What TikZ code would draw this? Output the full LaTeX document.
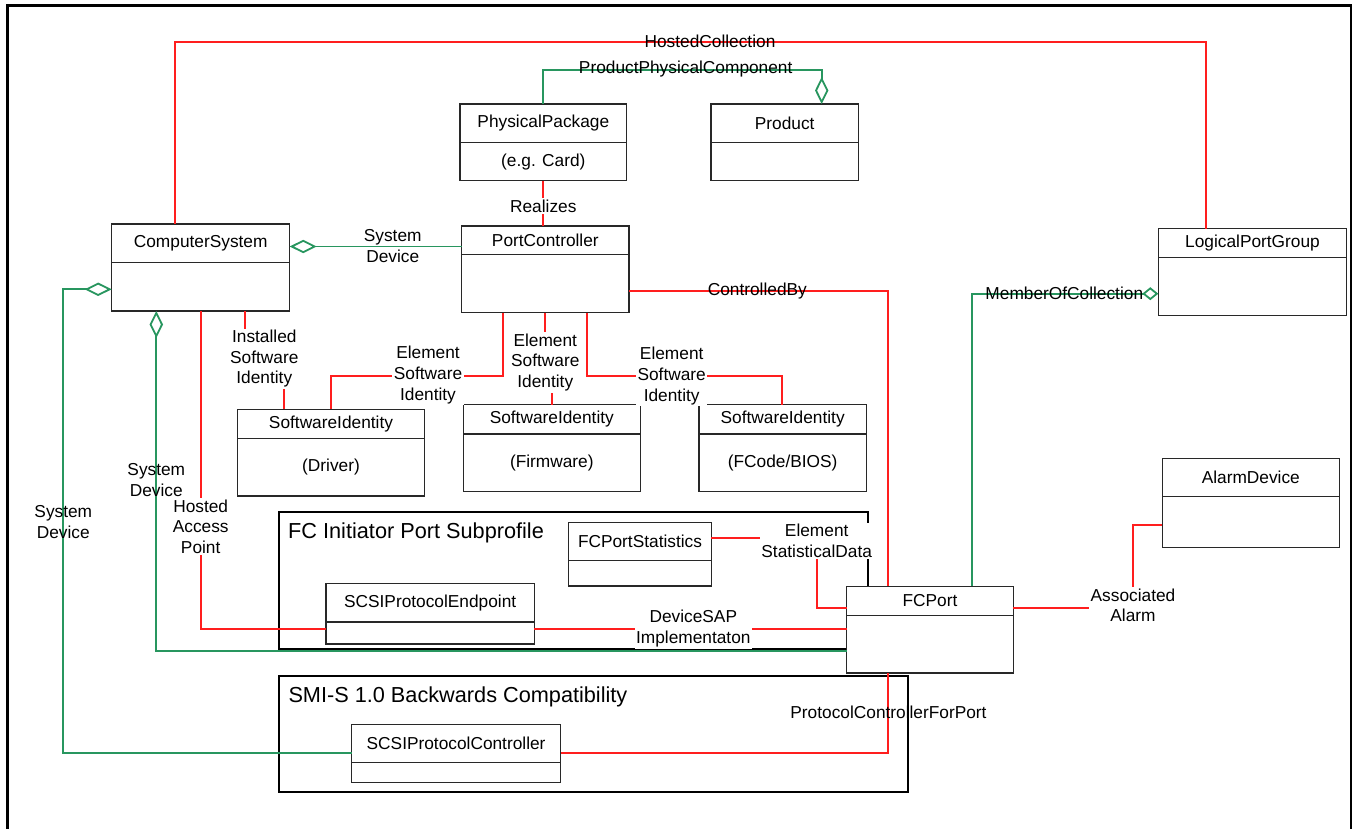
\documentclass[tikz,border=0pt]{standalone}
\usepackage{fontspec}
\setmainfont{Liberation Sans}
\usetikzlibrary{arrows.meta}
\definecolor{lred}{RGB}{255,30,30}
\definecolor{lgreen}{RGB}{40,150,95}
\definecolor{boxc}{RGB}{40,40,40}
\tikzset{
  txt/.style={font=\fontsize{17.3}{20.6}\selectfont, align=center, inner sep=1pt},
  lbl/.style={txt, fill=white, inner sep=1.5pt},
  ttl/.style={font=\fontsize{21.7}{26}\selectfont, inner sep=0pt, anchor=west},
  umlframe/.style={draw=boxc, fill=white, line width=1.2pt, inner sep=0pt, outer sep=0pt, anchor=north west},
  grpframe/.style={draw=black, line width=2pt, inner sep=0pt, outer sep=0pt, anchor=north west},
  redline/.style={draw=lred, line width=1.7pt},
  greenline/.style={draw=lgreen, line width=1.8pt},
  bigdia/.style={-{Diamond[open,length=27pt,width=13.4pt]}},
  smalldia/.style={-{Diamond[open,length=16pt,width=13pt]}},
}
% name, x1, y1, ydiv, x2, y2, title, sub
\newcommand{\umlbox}[8]{%
  \node[umlframe, minimum width={#5-#2}, minimum height={#6-#3}] (#1) at (#2,#3) {};
  \draw[draw=boxc, line width=1.2pt] (#2,#4) -- (#5,#4);
  \node[txt] at ({(#2+#5)/2},{(#3+#4)/2}) {#7};
  \node[txt] at ({(#2+#5)/2},{(#4+#6)/2}) {#8};
}
\begin{document}
\begin{tikzpicture}[x=1pt,y=-1pt]
\useasboundingbox (0,0) rectangle (1353,829);
\fill[white] (0,0) rectangle (1353,829);
% outer frame
\draw[line width=2.5pt] (7.5,829) -- (7.5,5.3) -- (1351,5.3) -- (1351,829);

% subprofile groups
\node[grpframe, minimum width=589, minimum height=136.4] (fci) at (279.3,512.3) {};
\node[ttl] (fcit) at (288,532.7) {FC Initiator Port Subprofile};
\node[grpframe, minimum width=628.7, minimum height=115.7] (smis) at (279.1,676.3) {};
\node[ttl] (smist) at (288.3,697.3) {SMI-S 1.0 Backwards Compatibility};

% UML boxes
\umlbox{cs}{111.7}{224}{262.7}{289.7}{311}{ComputerSystem}{}
\umlbox{pp}{460}{104}{142.7}{626.7}{180.7}{PhysicalPackage}{(e.g. Card)}
\umlbox{prod}{711}{104}{142.7}{858.3}{180.7}{Product}{}
\umlbox{pc}{461.7}{226}{254.7}{629}{312.7}{PortController}{}
\umlbox{lpg}{1158.3}{228.7}{257.3}{1346.7}{315.3}{LogicalPortGroup}{}
\umlbox{swd}{237.7}{409.3}{438.3}{424.3}{496}{SoftwareIdentity}{(Driver)}
\umlbox{swf}{463.3}{404.7}{434}{640.3}{491.3}{SoftwareIdentity}{(Firmware)}
\umlbox{swb}{699}{404.7}{434}{866.3}{491.3}{SoftwareIdentity}{(FCode/BIOS)}
\umlbox{alarm}{1162.3}{458.3}{496.7}{1339.3}{547.3}{AlarmDevice}{}
\umlbox{fcps}{568.7}{522.7}{560.7}{711.3}{586}{FCPortStatistics}{}
\umlbox{spe}{326}{583.7}{622}{534.3}{644}{SCSIProtocolEndpoint}{}
\umlbox{fcp}{846.7}{586.3}{615.3}{1013.3}{673}{FCPort}{}
\umlbox{spc}{351.7}{724.7}{762.7}{560.5}{782.3}{SCSIProtocolController}{}

% red connectors
\draw[redline] (175.3,0 |- cs.north) -- (175.3,42) -- (1205.7,42) -- (1205.7,0 |- lpg.north);
\node[txt] (hcl) at (710,41) {HostedCollection};
\draw[redline] (543.3,0 |- pp.south) -- (543.3,0 |- pc.north);
\draw[redline] (pc.east |- 0,290.7) -- (887.7,290.7) -- (887.7,0 |- fcp.north);
\node[txt] (cbl) at (757.3,290.7) {ControlledBy};
\draw[redline] (245.3,0 |- cs.south) -- (245.3,358.3) -- (284.3,358.3) -- (284.3,0 |- swd.north);
\draw[redline] (503.3,0 |- pc.south) -- (503.3,376) -- (331,376) -- (331,0 |- swd.north);
\draw[redline] (545.3,0 |- pc.south) -- (545.3,362) -- (552,362) -- (552,0 |- swf.north);
\draw[redline] (587,0 |- pc.south) -- (587,376) -- (782.3,376) -- (782.3,0 |- swb.north);
\draw[redline] (200.7,0 |- cs.south) -- (200.7,629) -- (spe.west |- 0,629);
\draw[redline] (spe.east |- 0,629) -- (fcp.west |- 0,629);
\draw[redline] (fcps.east |- 0,538.3) -- (816.7,538.3) -- (816.7,607.7) -- (fcp.west |- 0,607.7);
\draw[redline] (fcp.east |- 0,607.7) -- (1133,607.7) -- (1133,525) -- (alarm.west |- 0,525);
\draw[redline] (888,0 |- fcp.south) -- (888,753.3) -- (spc.east |- 0,753.3);

% labels with white background
\node[lbl] (rl) at (543.3,206) {Realizes};
\node[lbl] (isi) at (264.3,358.8) {Installed\\Software\\Identity};
\node[lbl] (esi1) at (428,375) {Element\\Software\\Identity};
\node[lbl] (esi2) at (545.3,362.5) {Element\\Software\\Identity};
\node[lbl] (esi3) at (671.7,376) {Element\\Software\\Identity};
\node[lbl] (hap) at (200.7,526.8) {Hosted\\Access\\Point};
\node[lbl] (dsi) at (693.3,628.8) {DeviceSAP\\Implementaton};
\node[lbl] (esd) at (816.7,541) {Element\\StatisticalData};
\node[lbl] (aal) at (1133,605.3) {Associated\\Alarm};
\node[txt] (pcfp) at (888.5,712) {ProtocolControllerForPort};

% green connectors
\draw[greenline, bigdia] (pc.west |- 0,246.5) -- (cs.east |- 0,246.5);
\node[txt] (sd1) at (392.7,246) {System\\Device};
\draw[greenline, bigdia] (543.3,0 |- pp.north) -- (543.3,70.3) -- (821.7,70.3) -- (821.7,0 |- prod.north);
\node[txt] (ppcl) at (685.7,69.3) {ProductPhysicalComponent};
\draw[greenline, smalldia] (971.7,0 |- fcp.north) -- (971.7,293.7) -- (lpg.west |- 0,293.7);
\node[txt] (mocl) at (1064.3,293) {MemberOfCollection};
\draw[greenline, bigdia] (fcp.west |- 0,651) -- (156.3,651) -- (156.3,0 |- cs.south);
\node[txt] (sd2) at (156.3,480.3) {System\\Device};
\draw[greenline, bigdia] (spc.west |- 0,753.3) -- (63.3,753.3) -- (63.3,289.3) -- (cs.west |- 0,289.3);
\node[txt] (sd3) at (63.3,522) {System\\Device};
\end{tikzpicture}
\end{document}
